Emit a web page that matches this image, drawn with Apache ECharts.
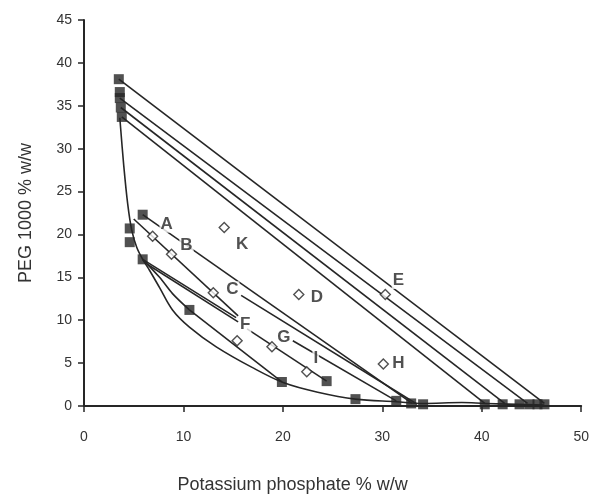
<!DOCTYPE html>
<html><head><meta charset="utf-8">
<script src="https://cdn.jsdelivr.net/npm/echarts@6/dist/echarts.min.js"></script>
<style>html,body{margin:0;padding:0;background:#fff}#c{width:592px;height:503px}</style>
</head><body><div id="c"></div>
<script>
// Outer binodal curve
const binodalX = [3.6, 4.0, 4.4, 4.8, 5.3, 5.9, 6.6, 7.6, 8.9, 10.6, 13.3, 16.9, 20.1, 23.5, 27.3, 31.4, 34.1, 38.0, 40.3, 46.3];
const binodalY = [33.6, 28.0, 23.5, 20.5, 18.5, 17.1, 15.8, 13.8, 11.2, 9.2, 6.9, 4.5, 2.7, 1.6, 0.8, 0.5, 0.3, 0.4, 0.3, 0.1];
// Inner curve segment
const innerX = [5.9, 7.6, 8.9, 10.6];
const innerY = [17.1, 15.0, 13.1, 11.2];
// Tie lines (start / end)
const tieX1 = [3.5, 3.6, 3.7, 3.8, 5.9, 5.0, 5.9, 6.4, 10.6, 16.4, 15.8, 21.0];
const tieY1 = [38.1, 35.9, 34.8, 33.7, 22.3, 21.8, 17.1, 16.5, 11.2, 9.0, 12.9, 7.6];
const tieX2 = [46.3, 44.6, 42.3, 40.3, 33.0, 15.5, 15.3, 15.5, 19.9, 24.4, 33.5, 31.4];
const tieY2 = [0.3, 0.3, 0.3, 0.3, 0.3, 10.5, 10.3, 9.8, 2.8, 2.9, 0.2, 0.6];
// Phase composition points (filled squares)
const phaseX = [3.5, 3.6, 3.6, 3.7, 3.8, 5.9, 4.6, 4.6, 5.9, 10.6, 19.9, 24.4, 27.3, 31.4, 32.9, 34.1, 40.3, 42.1, 43.8, 44.8, 45.6, 46.3];
const phaseY = [38.1, 36.6, 35.9, 34.8, 33.7, 22.3, 20.7, 19.1, 17.1, 11.2, 2.8, 2.9, 0.8, 0.6, 0.3, 0.2, 0.2, 0.2, 0.2, 0.2, 0.2, 0.2];
// Feed compositions (open diamonds)
const feedNames = ['A', 'B', 'C', 'D', 'E', 'F', 'G', 'H', 'I', 'K'];
const feedX = [6.9, 8.8, 13.0, 21.6, 30.3, 15.4, 18.9, 30.1, 22.4, 14.1];
const feedY = [19.8, 17.7, 13.2, 13.0, 13.0, 7.6, 6.9, 4.9, 4.0, 20.8];

const labelOffsets = {A:[14,-12], B:[15,-9], C:[19,-3], D:[18,3], E:[13,-14], F:[8,-16], G:[12,-10], H:[15,-1], I:[9,-13], K:[18,17]};
const ink = '#262626';
const font = 'Liberation Sans, Arial, sans-serif';

const series = [];
series.push({
  type: 'line', smooth: 0.35, symbol: 'none', silent: true,
  lineStyle: {color: ink, width: 1.6},
  data: binodalX.map((x, i) => [x, binodalY[i]]), z: 2
});
series.push({
  type: 'line', smooth: 0.3, symbol: 'none', silent: true,
  lineStyle: {color: ink, width: 1.6},
  data: innerX.map((x, i) => [x, innerY[i]]), z: 2
});
tieX1.forEach((x, i) => {
  series.push({
    type: 'line', symbol: 'none', silent: true,
    lineStyle: {color: ink, width: 1.6},
    data: [[x, tieY1[i]], [tieX2[i], tieY2[i]]], z: 2
  });
});
series.push({
  type: 'scatter', symbol: 'rect', symbolSize: 10,
  itemStyle: {color: ink},
  data: phaseX.map((x, i) => [x, phaseY[i]]), z: 4
});
series.push({
  type: 'scatter', symbol: 'diamond', symbolSize: 10,
  itemStyle: {color: '#fff', borderColor: ink, borderWidth: 1.4},
  data: feedX.map((x, i) => ({
    value: [x, feedY[i]],
    label: {
      show: true, formatter: feedNames[i], position: 'inside',
      offset: labelOffsets[feedNames[i]],
      fontSize: 17, fontWeight: 'bold', color: ink, fontFamily: font,
      backgroundColor: '#fff', padding: [0, 1]
    }
  })), z: 5
});

const chart = echarts.init(document.getElementById('c'), null, {renderer: 'canvas'});
chart.setOption({
  animation: false,
  backgroundColor: '#fff',
  grid: {left: 84, right: 8, top: 20, bottom: 97},
  xAxis: {
    type: 'value', min: 0, max: 50, interval: 10,
    name: 'Potassium phosphate % w/w', nameLocation: 'middle', nameGap: 70,
    nameTextStyle: {fontSize: 18, color: '#333', fontFamily: font, padding: [0, 80, 0, 0]},
    axisLine: {show: true, onZero: false, lineStyle: {color: ink, width: 2}},
    axisTick: {show: true, length: 6, lineStyle: {color: ink, width: 1.5}},
    axisLabel: {fontSize: 14, color: '#333', fontFamily: font, margin: 24},
    splitLine: {show: false}
  },
  yAxis: {
    type: 'value', min: 0, max: 45, interval: 5,
    name: 'PEG 1000 % w/w', nameLocation: 'middle', nameGap: 49, nameRotate: 90,
    nameTextStyle: {fontSize: 18, color: '#333', fontFamily: font},
    axisLine: {show: true, onZero: false, lineStyle: {color: ink, width: 2}},
    axisTick: {show: true, length: 6, lineStyle: {color: ink, width: 1.5}},
    axisLabel: {fontSize: 14, color: '#333', fontFamily: font, margin: 12},
    splitLine: {show: false}
  },
  series: series
});
</script>
</body></html>
